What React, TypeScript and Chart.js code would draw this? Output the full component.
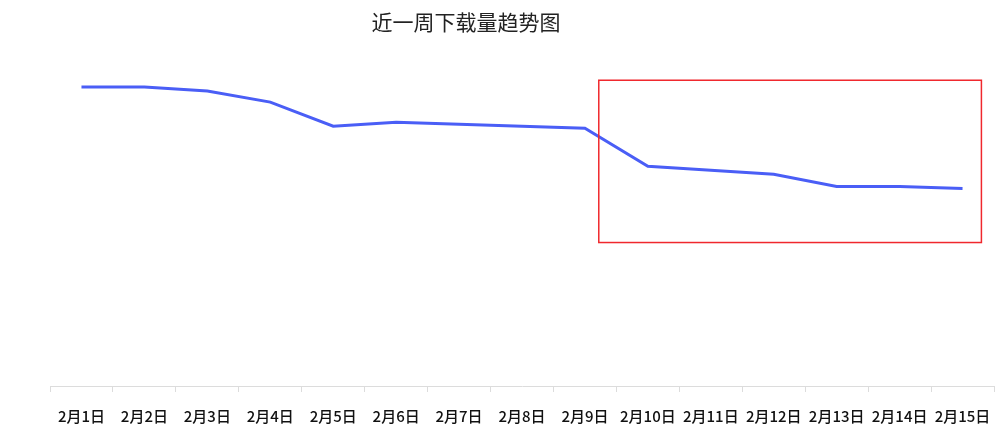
// @ts-nocheck
import { useEffect, useRef } from "react";
import { Chart, registerables } from "chart.js";

Chart.register(...registerables);

const TITLE = "近一周下载量趋势图";
const days = [
  "2月1日", "2月2日", "2月3日", "2月4日", "2月5日",
  "2月6日", "2月7日", "2月8日", "2月9日", "2月10日",
  "2月11日", "2月12日", "2月13日", "2月14日", "2月15日",
];
const downloads = [890, 890, 878, 845, 773, 785, 779, 773, 767, 654, 642, 630, 594, 594, 588];

// highlighted region (category index range, value range)
const boxX = [8.22, 14.3];
const boxY = [427, 910];

const FONT = "'Noto Sans CJK SC', 'Noto Sans', sans-serif";

const titlePlugin = {
  id: "customTitle",
  afterDraw(chart) {
    const { ctx } = chart;
    ctx.save();
    ctx.font = `21px ${FONT}`;
    ctx.fillStyle = "#222";
    ctx.textAlign = "center";
    ctx.textBaseline = "middle";
    ctx.fillText(TITLE, 466, 22);
    ctx.restore();
  },
};

const boxPlugin = {
  id: "highlightBox",
  afterDatasetsDraw(chart) {
    const { ctx, scales } = chart;
    const x1 = scales.x.getPixelForValue(boxX[0]);
    const x2 = scales.x.getPixelForValue(boxX[1]);
    const y1 = scales.y.getPixelForValue(boxY[1]);
    const y2 = scales.y.getPixelForValue(boxY[0]);
    ctx.save();
    ctx.strokeStyle = "#f0282d";
    ctx.lineWidth = 1.5;
    ctx.strokeRect(x1, y1, x2 - x1, y2 - y1);
    ctx.restore();
  },
};

export default function App() {
  const canvasRef = useRef<HTMLCanvasElement>(null);

  useEffect(() => {
    if (!canvasRef.current) return;
    const chart = new Chart(canvasRef.current, {
      type: "line",
      data: {
        labels: days,
        datasets: [
          {
            label: "下载量",
            data: downloads,
            borderColor: "#4a5ef6",
            borderWidth: 3,
            pointRadius: 0,
            tension: 0,
            fill: false,
          },
        ],
      },
      options: {
        animation: false,
        responsive: false,
        layout: { padding: { top: 50, left: 50, right: 6, bottom: 0 } },
        plugins: {
          legend: { display: false },
          tooltip: { enabled: false },
          title: { display: false },
        },
        scales: {
          x: {
            offset: true,
            afterFit: (scale) => {
              scale.height = 45;
              scale.paddingLeft = 0;
              scale.paddingRight = 0;
            },
            grid: {
              offset: true,
              drawOnChartArea: false,
              drawTicks: true,
              tickLength: 6,
              color: "#dcdcdc",
            },
            border: { display: true, color: "#dcdcdc" },
            ticks: {
              color: "#111",
              font: { family: FONT, size: 15, weight: 500 },
              padding: 15,
              maxRotation: 0,
              autoSkip: false,
            },
          },
          y: {
            display: false,
            min: 0,
            max: 1000,
          },
        },
      },
      plugins: [titlePlugin, boxPlugin],
    });
    return () => chart.destroy();
  }, []);

  return (
    <div style={{ position: "absolute", left: 0, top: 0, width: 1000, height: 431, background: "#fff" }}>
      <canvas ref={canvasRef} width={1000} height={431} style={{ width: 1000, height: 431 }} />
    </div>
  );
}
